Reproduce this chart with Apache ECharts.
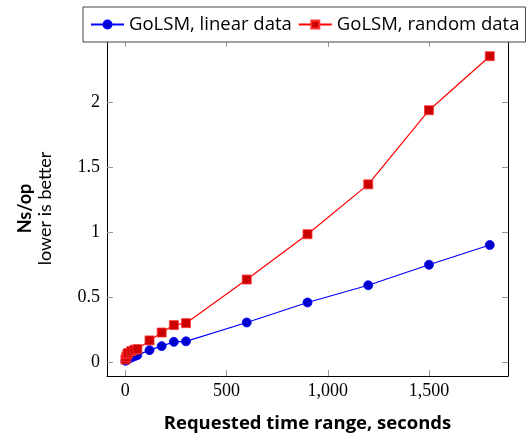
<!DOCTYPE html>
<html>
<head>
<meta charset="utf-8">
<script src="https://cdn.jsdelivr.net/npm/echarts@6/dist/echarts.min.js"></script>
<style>
html,body{margin:0;padding:0;background:#fff;}
#chart{width:527px;height:434px;}
</style>
</head>
<body>
<div id="chart"></div>
<script>
// Data
const timeRanges = [1, 5, 10, 15, 30, 45, 60, 120, 180, 240, 300, 600, 900, 1200, 1500, 1800];
const linearData = [0.01, 0.015, 0.02, 0.025, 0.035, 0.045, 0.054, 0.092, 0.123, 0.156, 0.16, 0.305, 0.459, 0.592, 0.75, 0.902];
const randomData = [0.02, 0.04, 0.06, 0.07, 0.085, 0.095, 0.10, 0.167, 0.228, 0.285, 0.30, 0.636, 0.985, 1.369, 1.94, 2.356];
const xTicks = [0, 500, 1000, 1500];
const yTicks = [0, 0.5, 1, 1.5, 2];
const seriesNames = ['GoLSM, linear data', 'GoLSM, random data'];

const sans = 'Lato, "Open Sans", sans-serif';
const sansWide = '"Open Sans", Lato, sans-serif';
const serif = '"Liberation Serif", serif';

function pairs(xs, ys) { return xs.map((x, i) => [x, ys[i]]); }

const chart = echarts.init(document.getElementById('chart'), null, {renderer: 'canvas'});

const tickStyle = {show: true, inside: true, length: 6, lineStyle: {color: '#999', width: 1}};
const axisLineStyle = {show: true, onZero: false, lineStyle: {color: '#000', width: 1}};

chart.setOption({
  animation: false,
  grid: {left: 107, right: 19, top: 41, bottom: 58, containLabel: false, outerBoundsMode: 'none'},
  legend: {
    left: 83, top: 7,
    padding: [8, 6, 8, 7],
    itemGap: 6,
    itemWidth: 33, itemHeight: 10,
    borderColor: '#444', borderWidth: 1,
    backgroundColor: '#fff',
    textStyle: {fontFamily: sansWide, fontSize: 18.5, color: '#000'},
    data: seriesNames,
    z: 10
  },
  xAxis: [{
    type: 'value', position: 'bottom',
    min: -90, max: 1890,
    axisLine: axisLineStyle,
    axisTick: Object.assign({customValues: xTicks}, tickStyle),
    axisLabel: {customValues: xTicks, fontFamily: serif, fontSize: 18, color: '#000', margin: 6,
      formatter: v => v.toLocaleString('en-US')},
    splitLine: {show: false},
    name: 'Requested time range, seconds',
    nameLocation: 'middle', nameGap: 38,
    nameTextStyle: {fontFamily: sansWide, fontSize: 18.5, fontWeight: 'bold', color: '#000'}
  }, {
    type: 'value', position: 'top',
    min: -90, max: 1890,
    axisLine: axisLineStyle,
    axisTick: Object.assign({customValues: xTicks}, tickStyle),
    axisLabel: {show: false},
    splitLine: {show: false}
  }],
  yAxis: [{
    type: 'value', position: 'left',
    min: -0.107, max: 2.473,
    axisLine: axisLineStyle,
    axisTick: Object.assign({customValues: yTicks}, tickStyle),
    axisLabel: {customValues: yTicks, fontFamily: serif, fontSize: 18, color: '#000', margin: 7},
    splitLine: {show: false},
    name: '{a|Ns/op}\n{b|lower is better}',
    nameLocation: 'middle', nameGap: 52, nameRotate: 90,
    nameTextStyle: {
      color: '#000',
      rich: {
        a: {fontFamily: sans, fontSize: 18, fontWeight: 'bold', lineHeight: 20, color: '#000'},
        b: {fontFamily: sans, fontSize: 18, lineHeight: 20, color: '#000'}
      }
    }
  }, {
    type: 'value', position: 'right',
    min: -0.107, max: 2.473,
    axisLine: axisLineStyle,
    axisTick: Object.assign({customValues: yTicks}, tickStyle),
    axisLabel: {show: false},
    splitLine: {show: false}
  }],
  series: [{
    name: seriesNames[0], type: 'line',
    xAxisIndex: 0, yAxisIndex: 0,
    data: pairs(timeRanges, linearData),
    symbol: 'circle', symbolSize: 9,
    showAllSymbol: true,
    lineStyle: {color: '#0000ff', width: 1.2},
    itemStyle: {color: '#0000cc', borderColor: '#0000ff', borderWidth: 0.8},
    z: 2
  }, {
    name: seriesNames[1], type: 'line',
    xAxisIndex: 0, yAxisIndex: 0,
    data: pairs(timeRanges, randomData),
    symbol: 'rect', symbolSize: 9,
    showAllSymbol: true,
    lineStyle: {color: '#ff0000', width: 1.2},
    itemStyle: {color: '#cc0000', borderColor: '#ff3333', borderWidth: 0.8},
    z: 3
  }]
});
</script>
</body>
</html>
